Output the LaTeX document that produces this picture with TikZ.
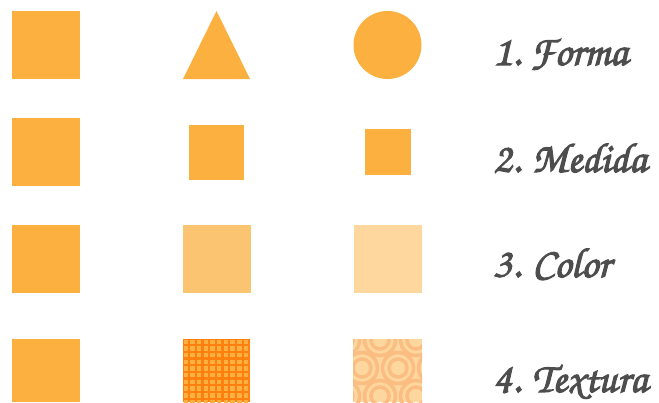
\documentclass[tikz,border=0pt]{standalone}
\usepackage{tikz}

\definecolor{naranja}{HTML}{FBB040}
\definecolor{naranjaB}{HTML}{FAC470}
\definecolor{naranjaC}{HTML}{FDD79D}
\definecolor{fuerte}{HTML}{FF7F0F}
\definecolor{anillo}{HTML}{FBBD82}
\definecolor{texto}{HTML}{4D4D4D}

\newcommand{\grueso}[1]{\special{pdf:literal 2 Tr 1.1 w}#1\special{pdf:literal 0 Tr}}

\tikzset{
  rotulo/.style={anchor=base west, inner sep=0pt, text=texto,
    font=\fontencoding{T1}\fontfamily{pzc}\fontsize{42}{42}\selectfont}
}

\begin{document}
\begin{tikzpicture}[x=1pt, y=-1pt]
\useasboundingbox (0,0) rectangle (659,402);
% fila 1: forma
\fill[naranja] (12,11) rectangle (80,79);
\fill[naranja] (183,79) -- (216.5,11) -- (250,79) -- cycle;
\fill[naranja] (387.5,45) circle (34);
% fila 2: medida
\fill[naranja] (12,118) rectangle (80,186);
\fill[naranja] (189,125) rectangle (244,180);
\fill[naranja] (365,129) rectangle (411,175);
% fila 3: color
\fill[naranja] (12,225) rectangle (80,293);
\fill[naranjaB] (183,225) rectangle (251,293);
\fill[naranjaC] (354,225) rectangle (422,293);
% fila 4: textura
\fill[naranja] (12,339) rectangle (80,402);
\fill[fuerte] (183,339) rectangle (250,402);
\begin{scope}
\clip (183,339) rectangle (250,402);
\foreach \i in {0,...,10}
  \foreach \j in {0,...,9}
    \fill[naranja] ({183.5+6.7*\i},{339.5+6.7*\j}) rectangle ++(4.4,4.4);
\end{scope}
\fill[naranjaC] (353,339) rectangle (422,402);
\begin{scope}
\clip (353,339) rectangle (422,402);
\foreach \cx/\cy in {344/340, 380/340, 416/340,
                     326/368, 362/368, 398/368, 434/368,
                     344/396, 380/396, 416/396} {
  \draw[anillo, line width=3.5pt] (\cx,\cy) circle (15.5);
  \draw[anillo, line width=3.5pt] (\cx,\cy) circle (9);
}
\end{scope}
% rotulos
\node[rotulo] (forma) at (493,65) {\grueso{1.\ Forma}};
\node[rotulo] (medida) at (493,172) {\grueso{2. Medida}};
\node[rotulo] (color) at (493,277) {\grueso{3. Color}};
\node[rotulo] (textura) at (493,392) {\grueso{4. Textura}};
\end{tikzpicture}
\end{document}
